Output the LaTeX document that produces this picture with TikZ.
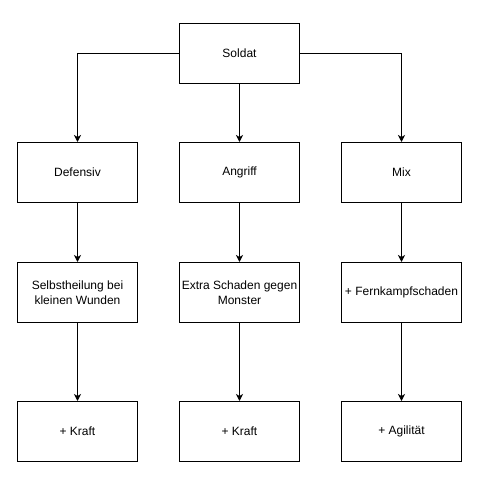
\documentclass[tikz,border=0pt]{standalone}
\usepackage{fontspec}
\setmainfont{Liberation Sans}
\usetikzlibrary{arrows.meta}
\begin{document}
\begin{tikzpicture}[x=1pt,y=-1pt,
  box/.style={draw,line width=1pt,minimum width=120pt,minimum height=60pt,inner sep=1pt,align=center,font=\fontsize{12}{14.5}\selectfont,anchor=north west},
  conn/.style={line width=1pt,-{Stealth[length=7pt,width=7pt,inset=2pt]}}]
\useasboundingbox (0,0) rectangle (488,481);
\node[box] (soldat) at (179,23) {Soldat};
\node[box] (def) at (17,142) {Defensiv};
\node[box] (ang) at (179,142) {Angriff};
\node[box] (mix) at (341,142) {Mix};
\node[box] (selb) at (17,262) {Selbstheilung bei\\kleinen Wunden};
\node[box] (extra) at (179,262) {Extra Schaden gegen\\Monster};
\node[box] (fern) at (341,262) {+ Fernkampfschaden};
\node[box] (kraft1) at (17,401) {+ Kraft};
\node[box] (kraft2) at (179,401) {+ Kraft};
\node[box] (agi) at (341,401) {+ Agilität};
\draw[conn] (soldat.west) -| (def.north);
\draw[conn] (soldat.south) -- (ang.north);
\draw[conn] (soldat.east) -| (mix.north);
\draw[conn] (def) -- (selb);
\draw[conn] (ang) -- (extra);
\draw[conn] (mix) -- (fern);
\draw[conn] (selb) -- (kraft1);
\draw[conn] (extra) -- (kraft2);
\draw[conn] (fern) -- (agi);
\end{tikzpicture}
\end{document}
